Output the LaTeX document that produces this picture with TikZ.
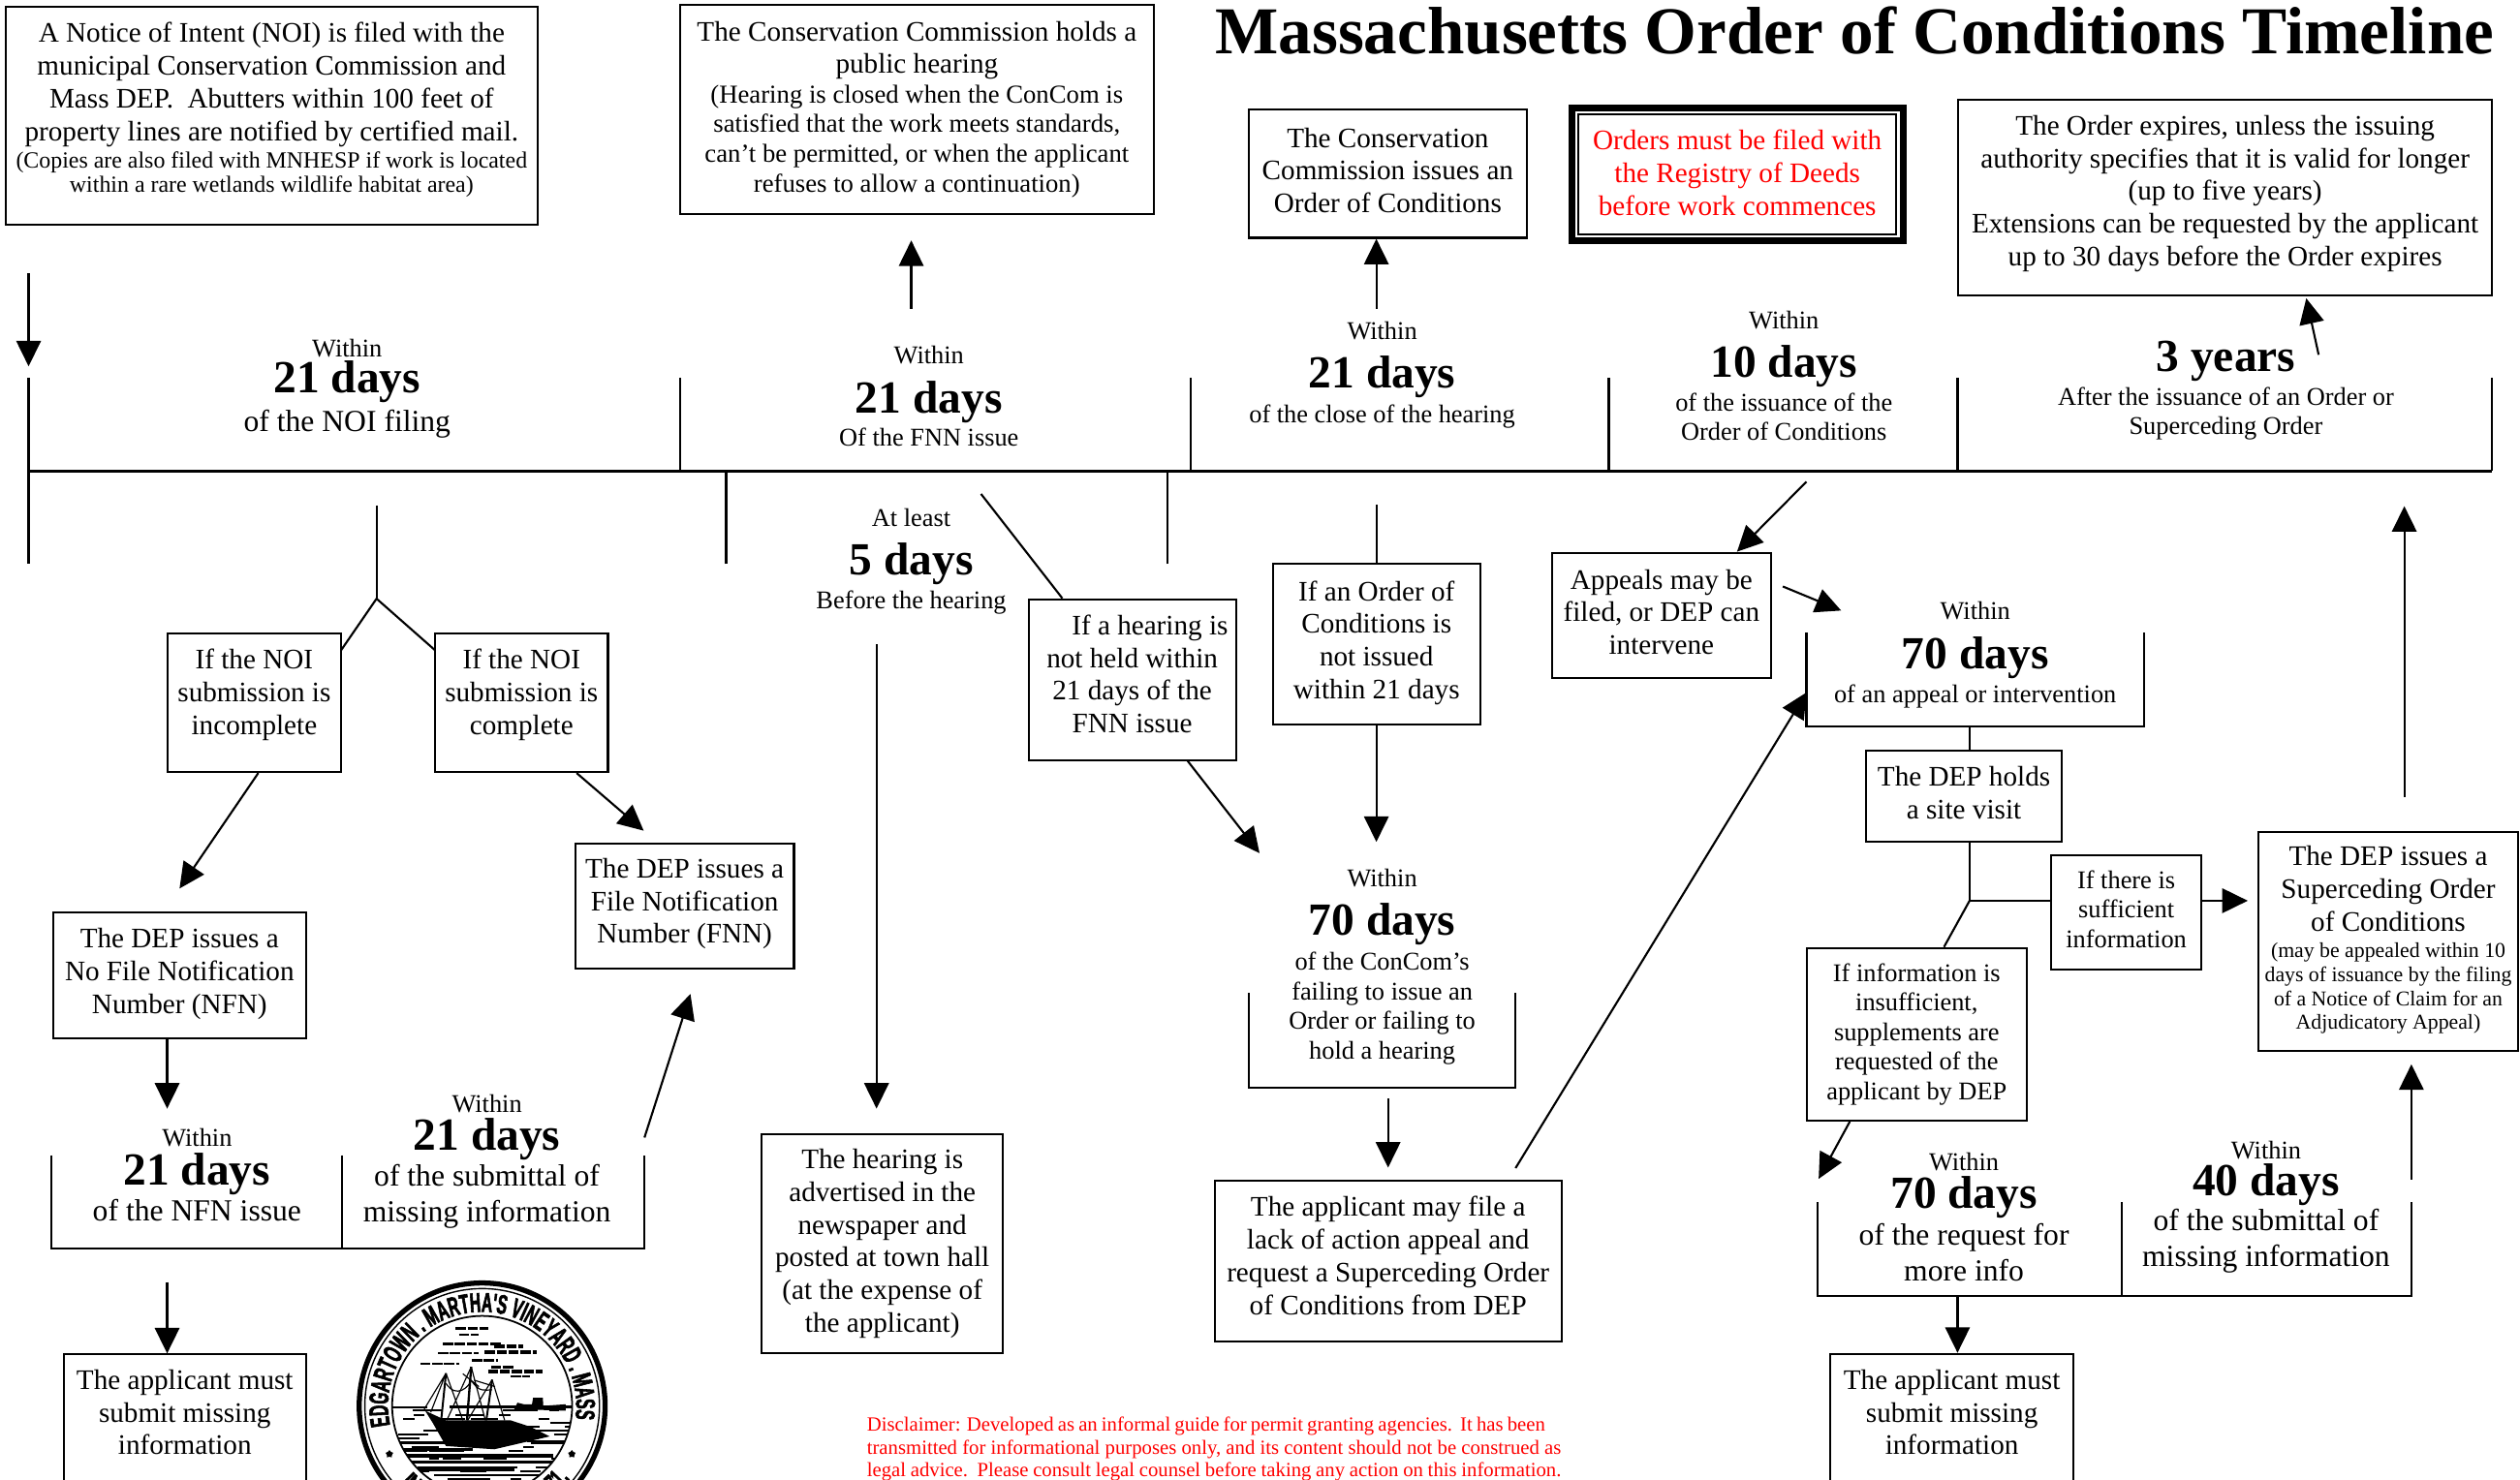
\documentclass[tikz,border=0pt]{standalone}
\usepackage{fontspec}
\usetikzlibrary{arrows.meta,decorations.text,shapes.geometric}
\setmainfont{Liberation Serif}
\newfontfamily\sealfont[FakeStretch=0.55,FakeBold=2]{Liberation Sans}
\newdimen\ux
\ux=0.472pt
\newcommand{\txtbox}{\fontsize{8.3}{9.6}\selectfont}
\newcommand{\txtmid}{\fontsize{7.5}{8.7}\selectfont}
\newcommand{\txthear}{\fontsize{7.6}{8.7}\selectfont}
\newcommand{\txtsmall}{\fontsize{6.8}{7.2}\selectfont}
\newcommand{\txtsuper}{\fontsize{6.2}{7}\selectfont}
\newcommand{\up}[1]{\par\nointerlineskip\vbox to #1\ux{}}
\newcommand{\stretched}[2]{\makebox[#1\ux][s]{#2}}
\tikzset{
  box/.style n args={2}{draw,line width=0.6pt,inner sep=0pt,align=flush center,text width=#1\ux,minimum height=#2\ux,font=\txtbox},
  note/.style={inner sep=0pt,align=flush center,font=\txtmid},
  lnote/.style={inner sep=0pt,align=flush center,font=\fontsize{9}{10.5}\selectfont},
  days/.style={inner sep=0pt,font=\fontsize{13.5}{14}\selectfont\bfseries},
  link/.style={line width=0.6pt},
  tline/.style={line width=0.85pt},
  bracket/.style={line width=0.7pt},
  arrow/.style={line width=0.6pt,-{Triangle[length=7.5pt,width=7.2pt]}},
  sealtext/.style={decorate,decoration={text along path,text align=center,text={|\sealfont\bfseries\fontsize{8}{8}\selectfont|#1}}}
}

\begin{document}
\begin{tikzpicture}[x=0.472pt,y=-0.472pt]
      \useasboundingbox (0,0) rectangle (1568,921);
      \clip (0,0) rectangle (1568,921);

      \node[inner sep=0pt,font=\fontsize{19.67}{22}\selectfont\bfseries] (title) at (1154,19) {Massachusetts Order of Conditions Timeline};

      \node[box={331}{136}] (noi) at (169,72) {A Notice of Intent (NOI) is filed with the\\municipal Conservation Commission and\\Mass DEP.~~Abutters within 100 feet of\\property lines are notified by certified mail.\par\vspace{2\ux}\txtsmall (Copies are also filed with MNHESP if work is located\\within a rare wetlands wildlife habitat area)\up{7}};
      \node[box={295}{130}] (hearing) at (570.5,68) {The Conservation Commission holds a\\public hearing\par\txthear (Hearing is closed when the ConCom is\\satisfied that the work meets standards,\\can’t be permitted, or when the applicant\\refuses to allow a continuation)\par};
      \node[box={173}{80}] (issues) at (863.5,108) {The Conservation\\Commission issues an\\Order of Conditions\up{4}};
      \node[draw,line width=2pt,minimum width=206\ux,minimum height=83\ux,inner sep=0pt] (redframe) at (1081,108.5) {};
      \node[box={198}{74.5},text=red] (filed) at (redframe.center) {Orders must be filed with\\the Registry of Deeds\\before work commences\up{2}};
      \node[box={332}{122}] (expires) at (1384.5,123) {The Order expires, unless the issuing\\authority specifies that it is valid for longer\\(up to five years)\\Extensions can be requested by the applicant\\up to 30 days before the Order expires\up{5}};

      \node[box={107.5}{86}] (incomplete) at (158.2,437.5) {If the NOI\\submission is\\incomplete\up{10}};
      \node[box={107.5}{86}] (complete) at (324.5,437.5) {If the NOI\\submission is\\complete\up{10}};
      \node[box={136}{78}] (fnn) at (426,564) {The DEP issues a\\File Notification\\Number (FNN)\up{3}};
      \node[box={157.5}{78}] (nfn) at (111.7,607) {The DEP issues a\\No File Notification\\Number (NFN)\up{2}};
      \node[box={150.7}{92}] (submita) at (115,889) {The applicant must\\submit missing\\information\up{20}};
      \node[box={150}{136}] (advert) at (549,774) {The hearing is\\advertised in the\\newspaper and\\posted at town hall\\(at the expense of\\the applicant)};
      \node[box={129}{100}] (nohearing) at (704.5,423) {\hspace*{22\ux}If a hearing is\\not held within\\21 days of the\\FNN issue\up{7}};
      \node[box={129}{100}] (noorder) at (856.5,401) {If an Order of\\Conditions is\\not issued\\within 21 days\up{2}};
      \node[box={216}{100}] (lack) at (863.7,785) {The applicant may file a\\lack of action appeal and\\request a Superceding Order\\of Conditions from DEP\up{7}};
      \node[box={136}{78}] (appeals) at (1033.8,383) {Appeals may be\\filed, or DEP can\\intervene\up{4}};
      \node[box={121.7}{57}] (visit) at (1222,495.5) {The DEP holds\\a site visit\up{4}};
      \node[box={93.5}{71.5},font=\txtmid] (sufficient) at (1323,567.8) {If there is\\sufficient\\information\up{4}};
      \node[box={137}{107.4},font=\txtmid] (insufficient) at (1192.6,643.7) {If information is\\insufficient,\\supplements are\\requested of the\\applicant by DEP};
      \node[box={162}{136}] (superceding) at (1486,586) {The DEP issues a\\Superceding Order\\of Conditions\par\vspace{2\ux}\txtsuper (may be appealed within 10\\days of issuance by the filing\\of a Notice of Claim for an\\Adjudicatory Appeal)\up{2}};
      \node[box={151}{92}] (submitb) at (1214.5,889) {The applicant must\\submit missing\\information\up{20}};

      \node[note] (wa) at (216,217) {Within};
      \node[days] (da) at (216,237.7) {21 days};
      \node[lnote] (oa) at (216,264) {of the NOI filing};
      \node[note] (wb) at (578,221) {Within};
      \node[days] (db) at (578,250.5) {21 days};
      \node[note] (ob) at (578,272) {Of the FNN issue};
      \node[note] (wc) at (860,206) {Within};
      \node[days] (dc) at (860,234.7) {21 days};
      \node[note] (oc) at (860,259) {of the close of the hearing};
      \node[note] (wd) at (1110,199) {Within};
      \node[days] (dd) at (1110,228) {10 days};
      \node[note] (od) at (1110,259.5) {of the issuance of the\\Order of Conditions};
      \node[days] (de) at (1385,224.5) {3 years};
      \node[note] (oe) at (1385,257.5) {After the issuance of an Order or\\Superceding Order};
      \node[note] (wf) at (567,322) {At least};
      \node[days] (df) at (567,350.7) {5 days};
      \node[note] (of) at (567,375) {Before the hearing};
      \node[note] (wg) at (860,546.4) {Within};
      \node[days] (dg) at (860,575.2) {70 days};
      \node[note] (og) at (860,627.5) {of the ConCom’s\\failing to issue an\\Order or failing to\\hold a hearing};
      \node[note] (wh) at (1229,380) {Within};
      \node[days] (dh) at (1229,409.5) {70 days};
      \node[note] (oh) at (1229,433.2) {of an appeal or intervention};
      \node[note] (wi) at (122.6,708) {Within};
      \node[days] (di) at (122.6,730.5) {21 days};
      \node[lnote] (oi) at (122.6,753.5) {of the NFN issue};
      \node[note] (wj) at (303,687) {Within};
      \node[days] (dj) at (303,708.8) {21 days};
      \node[lnote] (oj) at (303,744.5) {of the submittal of\\missing information};
      \node[note] (wk) at (1222,723) {Within};
      \node[days] (dk) at (1222,745) {70 days};
      \node[lnote] (ok) at (1222,779.5) {of the request for\\more info};
      \node[note] (wl) at (1410,716) {Within};
      \node[days] (dl) at (1410,737.5) {40 days};
      \node[lnote] (ol) at (1410,772.5) {of the submittal of\\missing information};

      \node[inner sep=0pt,anchor=west,text=red,align=left,font=\fontsize{5.9}{6.7}\selectfont] (disclaimer) at (539,902) {\stretched{422}{Disclaimer: Developed as an informal guide for permit granting agencies.~~It has been}\\\stretched{432}{transmitted for informational purposes only, and its content should not be construed as}\\\stretched{432}{legal advice.~~Please consult legal counsel before taking any action on this information.}};

      \coordinate (tlleft) at (17.8,293);
      \coordinate (tlright) at (1550.7,293);
      \coordinate (tka) at (17.8,235);
      \coordinate (tkb) at (17.8,351);
      \coordinate (tkc) at (423,235);
      \coordinate (tkd) at (741,235);
      \coordinate (tke) at (1001,235);
      \coordinate (tkf) at (1218,235);
      \coordinate (tkg) at (1550.7,235);
      \coordinate (tkh) at (451.8,351);
      \coordinate (tki) at (726.3,351);
      \draw[tline] (tlleft) -- (tlright);
      \draw[link] (tka) -- (tkb);
      \draw[link] (tkc) -- (tkc |- tlleft);
      \draw[link] (tkd) -- (tkd |- tlleft);
      \draw[link] (tke) -- (tke |- tlleft);
      \draw[link] (tkf) -- (tkf |- tlleft);
      \draw[link] (tkg) -- (tkg |- tlleft);
      \draw[link] (tkh) -- (tkh |- tlleft);
      \draw[link] (tki) -- (tki |- tlleft);

      \coordinate (brala) at (32,719);
      \coordinate (bralb) at (32,777);
      \coordinate (bralc) at (212.8,719);
      \coordinate (brald) at (212.8,777);
      \coordinate (brale) at (401,719);
      \coordinate (bralf) at (401,777);
      \draw[bracket] (brala) -- (bralb) -- (bralf) -- (brale);
      \draw[link] (bralc) -- (brald);
      \coordinate (brbla) at (777,618);
      \coordinate (brblb) at (777,677);
      \coordinate (brblc) at (943,677);
      \coordinate (brbld) at (943,618);
      \draw[link] (brbla) -- (brblb) -- (brblc) -- (brbld);
      \coordinate (brcla) at (1124,393.8);
      \coordinate (brclb) at (1124,452);
      \coordinate (brclc) at (1334,452);
      \coordinate (brcld) at (1334,393.8);
      \draw[bracket] (brcla) -- (brclb) -- (brclc) -- (brcld);
      \coordinate (brdla) at (1131,748.3);
      \coordinate (brdlb) at (1131,806.5);
      \coordinate (brdlc) at (1320,748.3);
      \coordinate (brdld) at (1320,806.5);
      \coordinate (brdle) at (1500.4,806.5);
      \coordinate (brdlf) at (1500.4,748.3);
      \draw[bracket] (brdla) -- (brdlb) -- (brdle) -- (brdlf);
      \draw[link] (brdlc) -- (brdld);

      \coordinate (forka) at (234.3,314.5);
      \coordinate (forkb) at (234.3,372.6);
      \coordinate (forkl) at (212.3,404.6);
      \coordinate (forkr) at (270.6,404.6);
      \coordinate (noistart) at (17.8,170);
      \coordinate (noitip) at (17.8,228);
      \coordinate (hearstart) at (567,192);
      \coordinate (issuestart) at (856.4,192);
      \coordinate (expirestart) at (1442.7,220.8);
      \coordinate (appealstart) at (1124,299.8);
      \coordinate (appealright) at (1109.3,365);
      \coordinate (appealtip) at (1145.6,380);
      \coordinate (nfntip) at (111.7,553);
      \coordinate (fnntip) at (400.5,517);
      \coordinate (nfndown) at (104,690);
      \coordinate (submitstart) at (104,798);
      \coordinate (fnnstart) at (401,708);
      \coordinate (fnnup) at (429.6,618.6);
      \coordinate (advstart) at (545.4,401);
      \coordinate (advtip) at (545.4,690);
      \coordinate (failtop) at (610.4,307.4);
      \coordinate (failtip) at (783.7,531);
      \coordinate (ordertop) at (856.4,314);
      \coordinate (ordertip) at (856.4,524);
      \coordinate (lackstart) at (863.7,683.7);
      \coordinate (lacktip) at (863.7,726.7);
      \coordinate (laststart) at (943,727);
      \coordinate (lasttip) at (1124,431);
      \coordinate (visitfork) at (1225.5,560.6);
      \coordinate (supertip) at (1398.6,560.6);
      \coordinate (infotip) at (1131.6,733.7);
      \coordinate (finalstart) at (1496,496);
      \coordinate (finaltip) at (1496,315);
      \coordinate (fortystart) at (1500.4,734);
      \coordinate (fortytip) at (1500.4,662.4);
      \coordinate (downstart) at (1218,806.5);
      \coordinate (downtip) at (1218,842);

      \draw[arrow] (noistart) -- (noitip);
      \draw[arrow] (hearstart) -- ([yshift=-16\ux]hearing.south -| hearstart);
      \draw[arrow] (issuestart) -- (issuestart |- issues.south);
      \draw[arrow] (expirestart) -- ([xshift=50.5\ux,yshift=-1\ux]expires.south);
      \draw[arrow] (appealstart) -- ([xshift=47\ux]appeals.north);
      \draw[arrow] (appealright) -- (appealtip);
      \draw[link] (forka) -- (forkb);
      \draw[link] (forkl) -- (forkb) -- (forkr);
      \draw[arrow] ([xshift=2.5\ux]incomplete.south) -- (nfntip);
      \draw[arrow] ([xshift=34.3\ux]complete.south) -- (fnntip);
      \draw[arrow] (nfn.south -| nfndown) -- (nfndown);
      \draw[arrow] (fnnstart) -- (fnnup);
      \draw[arrow] (submitstart) -- (submitstart |- submita.north);
      \draw[arrow] (advstart) -- (advtip);
      \draw[link] (failtop) -- ([xshift=-43.5\ux]nohearing.north);
      \draw[arrow] ([xshift=34.5\ux]nohearing.south) -- (failtip);
      \draw[link] (ordertop) -- (ordertop |- noorder.north);
      \draw[arrow] (ordertop |- noorder.south) -- (ordertip);
      \draw[arrow] (lackstart) -- (lacktip);
      \draw[arrow] (laststart) -- (lasttip);
      \draw[link] (brclb -| visitfork) -- (visitfork |- visit.north);
      \draw[link] (visitfork |- visit.south) -- (visitfork);
      \draw[link] (visitfork) -- (sufficient.west |- visitfork);
      \draw[link] (visitfork) -- ([xshift=17\ux]insufficient.north);
      \draw[arrow] (sufficient.east |- visitfork) -- (supertip);
      \draw[arrow] ([xshift=-41.6\ux]insufficient.south) -- (infotip);
      \draw[arrow] (downstart) -- (downtip);
      \draw[arrow] (finalstart) -- (finaltip);
      \draw[arrow] (fortystart) -- (fortytip);

      \begin{scope}[shift={(300,875)},x=0.472pt,y=0.472pt]
        \draw[line width=1.5pt] (0,0) circle (76.5);
        \draw[line width=0.4pt] (0,0) circle (73);
        \draw[line width=0.5pt] (0,0) circle (56);
        \path[sealtext={EDGARTOWN . MARTHA'S VINEYARD . MASS}] (201:58.5) arc (201:-17:58.5);
        \path[sealtext={INC}] (216:71) arc (216:244:71);
        \path[sealtext={1671.}] (298:71) arc (298:324:71);
        \node[star,star points=5,fill,inner sep=0pt,minimum size=5\ux] (starl) at (-57.7,-30) {};
        \node[star,star points=5,fill,inner sep=0pt,minimum size=5\ux] (starr) at (55.8,-30) {};
        \begin{scope}
          \clip (0,0) circle (56);
          \foreach \xa/\xb/\yy/\lw in {-16.5/3.6/48.4/1.8,-14.5/-2.4/44.4/1.2,-24.5/11.6/38.4/1.8,1.6/33.7/33.3/2.2,7.6/25.7/37.3/2.4,-27.5/-2.4/33/1.2,-38.5/-14.5/26.3/1.5,-6.4/9.6/28.3/2,3.6/37.8/21.3/2,5.6/19.7/24.3/1.8,17.7/29.7/18.3/1.2}
            \draw[line width=\lw\ux,dash pattern=on 3pt off 0.5pt] (\xa,\yy) -- (\xb,\yy);
          \pgfmathsetseed{7}
          \foreach \yy in {-3,-5.5,...,-55}
            \foreach \k in {1,...,5} {
              \pgfmathsetmacro\xa{rnd*112-56}
              \pgfmathsetmacro\len{rnd*16+4}
              \draw[line width=1.2\ux] (\xa,\yy) -- ++(\len,0);
            }
          \foreach \xa/\xb/\yy/\lw in {-56/-34/-1/1.5,-20/56/-0.5/1.5,-54/-16/-23/1.5,28/56/-22/1.5,-50/-6/-27/2,-46/44/-31/2.5,-44/50/-35/1.5,-40/20/-39/3,-30/40/-43/1.5,-20/30/-47/2}
            \draw[line width=\lw\ux] (\xa,\yy) -- (\xb,\yy);
          \fill (-35.5,-3) -- (-22.5,-9) -- (17.7,-9) -- (30,-13) -- (42,-19) -- (7.6,-27) -- (-22.5,-25) -- (-30.5,-11) -- cycle;
          \fill (20,-2) -- (22,2) -- (26,1) -- (31,1) -- (31.7,5) -- (37.8,5) -- (38,0) -- (52,1) -- (52,-3) -- cycle;
          \draw[line width=1.2\ux] (-22.5,20.3) -- (-25.5,-9);
          \draw[line width=1.4\ux] (-6.8,24.3) -- (-9.4,-9);
          \draw[line width=1.2\ux] (6.2,16.3) -- (2.6,-9);
          \draw[line width=0.7\ux] (-22.5,20.3) -- (-36,-2) (-22.5,20.3) -- (-32,-4) (-22.5,20.3) -- (-12,-9) (-6.8,24.3) -- (-22,-9) (-6.8,24.3) -- (2,-9) (6.2,16.3) -- (-9,-9) (6.2,16.3) -- (14,-9);
          \draw[line width=0.7\ux] (-22.5,14) .. controls (-16,4) and (-8,12) .. (-6.8,16) (-6.8,16) .. controls (-2,8) and (2,10) .. (6.2,10) (-12,20) -- (-2,12) (-5,16) -- (8,12);
        \end{scope}
      \end{scope}
    \end{tikzpicture}
\end{document}
